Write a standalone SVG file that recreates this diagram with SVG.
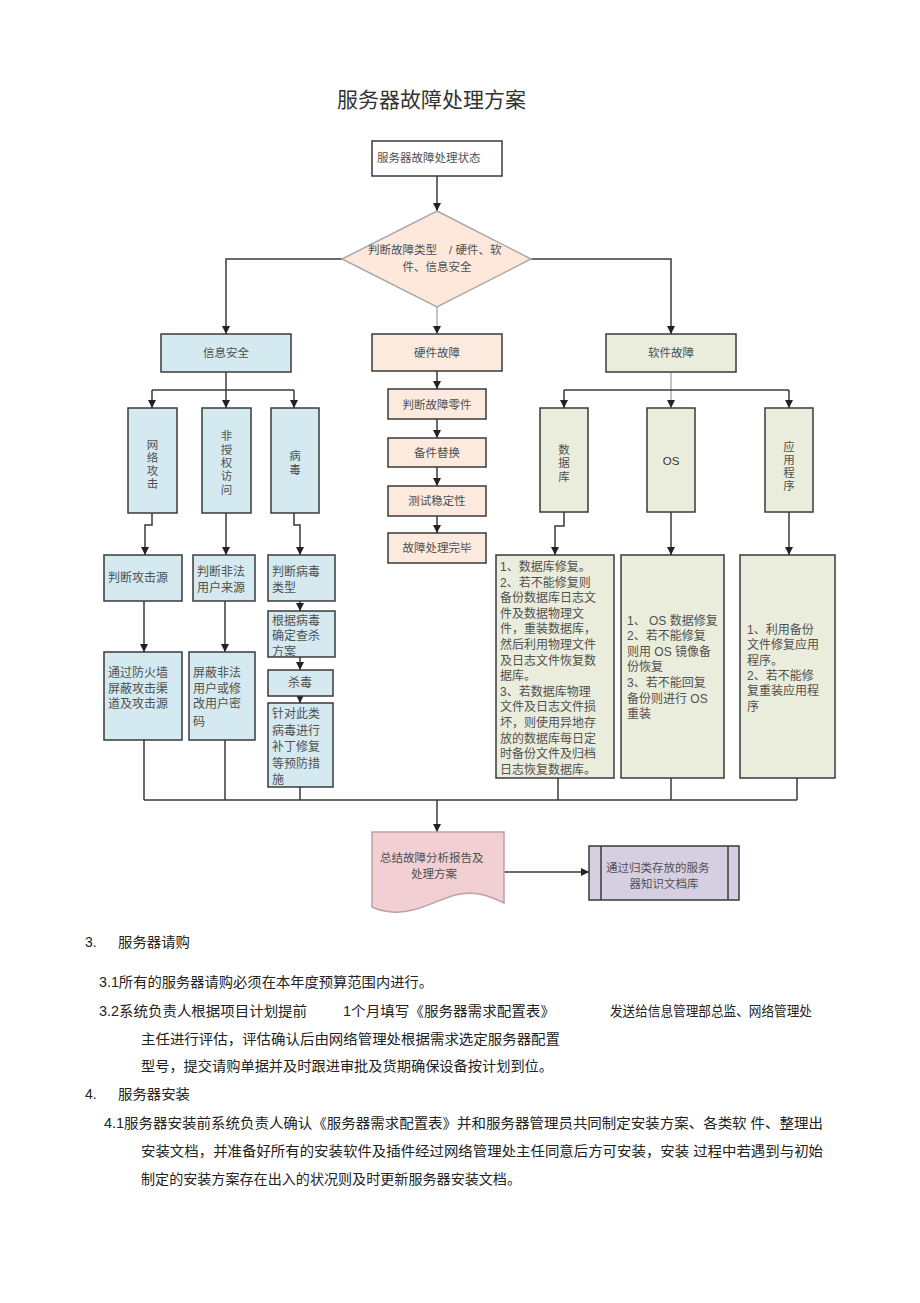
<svg xmlns="http://www.w3.org/2000/svg" width="920" height="1303" viewBox="0 0 920 1303">
<style>
.t{font-family:"Liberation Sans","Noto Sans CJK SC",sans-serif;fill:#505050;font-size:11.5px}
.m{text-anchor:middle}
.b{font-family:"Liberation Sans","Noto Sans CJK SC",sans-serif;fill:#222;font-size:14px}
.box{stroke:#3a3a3a;stroke-width:1.5}
.blue{fill:#d4eaf0}
.peach{fill:#fdeadf}
.green{fill:#ebeddc}
.c{fill:none;stroke:#3a3a3a;stroke-width:1.5}
.ca{fill:none;stroke:#3a3a3a;stroke-width:1.5;marker-end:url(#ah)}
.cl{fill:none;stroke:#b0b0b0;stroke-width:1.5;marker-end:url(#ah)}
</style>
<defs>
<marker id="ah" markerUnits="userSpaceOnUse" markerWidth="9" markerHeight="9" refX="8" refY="4" orient="auto">
<path d="M0,0 L8,4 L0,8 z" fill="#222"/>
</marker>
</defs>
<rect width="920" height="1303" fill="#fff"/>
<text x="337" y="107" style="font-family:'Liberation Sans','Noto Sans CJK SC',sans-serif;font-size:21px;fill:#333">服务器故障处理方案</text>

<g id="connectors">
<path class="ca" d="M437,176 V211"/>
<path class="ca" d="M342,259 H226 V334"/>
<path class="ca" d="M531,259 H671 V334"/>
<path class="cl" d="M437,307 V334"/>
<path class="c" d="M152,390 H294"/>
<path class="ca" d="M226,372 V408"/>
<path class="ca" d="M152,390 V408"/>
<path class="ca" d="M294,390 V408"/>
<path class="ca" d="M152,513 V525 H145 V555"/>
<path class="ca" d="M226,513 V555"/>
<path class="ca" d="M294,513 V525 H300 V555"/>
<path class="ca" d="M144,601 V652"/>
<path class="ca" d="M225,601 V652"/>
<path class="ca" d="M300,601 V611"/>
<path class="ca" d="M300,657 V670"/>
<path class="ca" d="M300,696 V703"/>
<path class="c" d="M144,740 V800 M225,740 V800 M300,787 V800 M558,778 V800 M671,778 V800 M797,778 V800 M144,800 H797"/>
<path class="ca" d="M437,800 V832"/>
<path class="ca" d="M504,872 H589"/>
<path class="ca" d="M437,371 V389"/>
<path class="ca" d="M437,419 V438"/>
<path class="ca" d="M437,467 V486"/>
<path class="ca" d="M437,516 V533"/>
<path class="cl" d="M671,372 V408"/>
<path class="c" d="M564,390 H789"/>
<path class="ca" d="M564,390 V408"/>
<path class="ca" d="M789,390 V408"/>
<path class="ca" d="M564,512 V526 H555 V555"/>
<path class="ca" d="M671,512 V555"/>
<path class="ca" d="M789,512 V555"/>
</g>

<g id="start">
<rect class="box" x="372" y="141" width="130" height="35" fill="#fff"/>
<text class="t" x="377" y="162">服务器故障处理状态</text>
</g>
<g id="decision">
<polygon points="437,211 531,259 437,307 342,259" fill="#fde8db" stroke="#a8a8a8" stroke-width="1.5"/>
<text class="t" x="368" y="254">判断故障类型</text>
<text class="t" x="449" y="254">/ 硬件、软</text>
<text class="t m" x="437" y="271">件、信息安全</text>
</g>

<g id="info-security">
<rect class="box blue" x="161" y="334" width="130" height="38"/>
<text class="t m" x="226" y="357">信息安全</text>
</g>
<g id="hardware">
<rect class="box peach" x="372" y="334" width="130" height="37"/>
<text class="t m" x="437" y="357">硬件故障</text>
</g>
<g id="software">
<rect class="box green" x="606" y="334" width="130" height="38"/>
<text class="t m" x="671" y="357">软件故障</text>
</g>

<g id="net-attack">
<rect class="box blue" x="128" y="408" width="49" height="105"/>
<text class="t m" x="152.5" y="449">网</text>
<text class="t m" x="152.5" y="462">络</text>
<text class="t m" x="152.5" y="475">攻</text>
<text class="t m" x="152.5" y="488">击</text>
</g>
<g id="unauth">
<rect class="box blue" x="202" y="408" width="49" height="105"/>
<text class="t m" x="226.5" y="440">非</text>
<text class="t m" x="226.5" y="454">授</text>
<text class="t m" x="226.5" y="467">权</text>
<text class="t m" x="226.5" y="480">访</text>
<text class="t m" x="226.5" y="494">问</text>
</g>
<g id="virus">
<rect class="box blue" x="271" y="408" width="48" height="105"/>
<text class="t m" x="295" y="460">病</text>
<text class="t m" x="295" y="474">毒</text>
</g>

<g id="judge-attack">
<rect class="box blue" x="104" y="555" width="78" height="46"/>
<text class="t" x="108" y="582" style="font-size:12px">判断攻击源</text>
</g>
<g id="judge-user">
<rect class="box blue" x="193" y="555" width="62" height="46"/>
<text class="t" x="197" y="576" style="font-size:12px">判断非法</text>
<text class="t" x="197" y="592" style="font-size:12px">用户来源</text>
</g>
<g id="judge-virus">
<rect class="box blue" x="268" y="555" width="67" height="46"/>
<text class="t" x="272" y="576" style="font-size:12px">判断病毒</text>
<text class="t" x="272" y="592" style="font-size:12px">类型</text>
</g>
<g id="virus-plan">
<rect class="box blue" x="268" y="611" width="67" height="46"/>
<text class="t" x="272" y="625" style="font-size:12px">根据病毒</text>
<text class="t" x="272" y="640" style="font-size:12px">确定查杀</text>
<text class="t" x="272" y="656" style="font-size:12px">方案</text>
</g>
<g id="kill">
<rect class="box blue" x="268" y="670" width="65" height="26"/>
<text class="t m" x="300" y="687" style="font-size:12px">杀毒</text>
</g>
<g id="patch">
<rect class="box blue" x="268" y="703" width="65" height="84"/>
<text class="t" x="272" y="718" style="font-size:12px">针对此类</text>
<text class="t" x="272" y="735" style="font-size:12px">病毒进行</text>
<text class="t" x="272" y="751" style="font-size:12px">补丁修复</text>
<text class="t" x="272" y="768" style="font-size:12px">等预防措</text>
<text class="t" x="272" y="784" style="font-size:12px">施</text>
</g>
<g id="firewall">
<rect class="box blue" x="104" y="652" width="78" height="88"/>
<text class="t" x="108" y="677" style="font-size:12px">通过防火墙</text>
<text class="t" x="108" y="693" style="font-size:12px">屏蔽攻击渠</text>
<text class="t" x="108" y="708" style="font-size:12px">道及攻击源</text>
</g>
<g id="block-user">
<rect class="box blue" x="189" y="652" width="66" height="88"/>
<text class="t" x="193" y="677" style="font-size:12px">屏蔽非法</text>
<text class="t" x="193" y="693" style="font-size:12px">用户或修</text>
<text class="t" x="193" y="708" style="font-size:12px">改用户密</text>
<text class="t" x="193" y="726" style="font-size:12px">码</text>
</g>

<g id="hw-judge">
<rect class="box peach" x="388" y="389" width="98" height="30"/>
<text class="t m" x="437" y="409">判断故障零件</text>
</g>
<g id="hw-replace">
<rect class="box peach" x="388" y="438" width="98" height="29"/>
<text class="t m" x="437" y="457">备件替换</text>
</g>
<g id="hw-test">
<rect class="box peach" x="388" y="486" width="98" height="30"/>
<text class="t m" x="437" y="505">测试稳定性</text>
</g>
<g id="hw-done">
<rect class="box peach" x="388" y="533" width="98" height="30"/>
<text class="t m" x="437" y="552">故障处理完毕</text>
</g>

<g id="db">
<rect class="box green" x="540" y="408" width="48" height="104"/>
<text class="t m" x="564" y="454">数</text>
<text class="t m" x="564" y="467">据</text>
<text class="t m" x="564" y="481">库</text>
</g>
<g id="os">
<rect class="box green" x="647" y="408" width="48" height="104"/>
<text class="t m" x="671" y="465" style="fill:#333">OS</text>
</g>
<g id="app">
<rect class="box green" x="765" y="408" width="48" height="104"/>
<text class="t m" x="789" y="451">应</text>
<text class="t m" x="789" y="464">用</text>
<text class="t m" x="789" y="477">程</text>
<text class="t m" x="789" y="490">序</text>
</g>

<g id="db-detail">
<rect class="box green" x="496" y="555" width="118" height="223"/>
<g class="t" style="font-size:12px">
<text x="500" y="571">1、数据库修复。</text>
<text x="500" y="587">2、若不能修复则</text>
<text x="500" y="602">备份数据库日志文</text>
<text x="500" y="618">件及数据物理文</text>
<text x="500" y="633">件，重装数据库，</text>
<text x="500" y="649">然后利用物理文件</text>
<text x="500" y="665">及日志文件恢复数</text>
<text x="500" y="680">据库。</text>
<text x="500" y="696">3、若数据库物理</text>
<text x="500" y="711">文件及日志文件损</text>
<text x="500" y="727">坏，则使用异地存</text>
<text x="500" y="743">放的数据库每日定</text>
<text x="500" y="758">时备份文件及归档</text>
<text x="500" y="774">日志恢复数据库。</text>
</g>
</g>
<g id="os-detail">
<rect class="box green" x="621" y="555" width="103" height="223"/>
<g class="t" style="font-size:12px">
<text x="627" y="625">1、 OS 数据修复</text>
<text x="627" y="640">2、若不能修复</text>
<text x="627" y="656">则用 OS 镜像备</text>
<text x="627" y="671">份恢复</text>
<text x="627" y="687">3、若不能回复</text>
<text x="627" y="703">备份则进行  OS</text>
<text x="627" y="718">重装</text>
</g>
</g>
<g id="app-detail">
<rect class="box green" x="740" y="555" width="95" height="223"/>
<g class="t" style="font-size:12px">
<text x="747" y="634">1、利用备份</text>
<text x="747" y="649">文件修复应用</text>
<text x="747" y="665">程序。</text>
<text x="747" y="680">2、若不能修</text>
<text x="747" y="695">复重装应用程</text>
<text x="747" y="711">序</text>
</g>
</g>

<g id="report">
<path d="M372,832 H504 V903 C490,896 474,890 455,895 C432,902 414,914 392,912 C382,911 376,909 372,907 Z" fill="#f1cfd3" stroke="#c0a0a6" stroke-width="1.5"/>
<text class="t" x="380" y="862">总结故障分析报告及</text>
<text class="t m" x="434" y="878">处理方案</text>
</g>
<g id="kb">
<rect class="box" x="589" y="846" width="150" height="54" fill="#d6cfe2"/>
<path d="M601,846 V900 M728,846 V900" stroke="#3a3a3a" stroke-width="1.5"/>
<text class="t" x="606" y="872">通过归类存放的服务</text>
<text class="t m" x="664" y="888">器知识文档库</text>
</g>

<g id="body-text">
<text class="b" x="85" y="947">3.</text>
<text class="b" x="118" y="947" textLength="72" lengthAdjust="spacingAndGlyphs">服务器请购</text>
<text class="b" x="99" y="987" textLength="334" lengthAdjust="spacingAndGlyphs">3.1所有的服务器请购必须在本年度预算范围内进行。</text>
<text class="b" x="99" y="1016" textLength="208" lengthAdjust="spacingAndGlyphs">3.2系统负责人根据项目计划提前</text>
<text class="b" x="343" y="1016" textLength="212" lengthAdjust="spacingAndGlyphs">1个月填写《服务器需求配置表》</text>
<text class="b" x="610" y="1016" textLength="202" lengthAdjust="spacingAndGlyphs">发送给信息管理部总监、网络管理处</text>
<text class="b" x="141" y="1044" textLength="419" lengthAdjust="spacingAndGlyphs">主任进行评估，评估确认后由网络管理处根据需求选定服务器配置</text>
<text class="b" x="141" y="1071" textLength="412" lengthAdjust="spacingAndGlyphs">型号，提交请购单据并及时跟进审批及货期确保设备按计划到位。</text>
<text class="b" x="85" y="1099">4.</text>
<text class="b" x="118" y="1099" textLength="72" lengthAdjust="spacingAndGlyphs">服务器安装</text>
<text class="b" x="104" y="1128" textLength="719" lengthAdjust="spacingAndGlyphs">4.1服务器安装前系统负责人确认《服务器需求配置表》并和服务器管理员共同制定安装方案、各类软 件、整理出</text>
<text class="b" x="141" y="1156" textLength="682" lengthAdjust="spacingAndGlyphs">安装文档，并准备好所有的安装软件及插件经过网络管理处主任同意后方可安装，安装 过程中若遇到与初始</text>
<text class="b" x="141" y="1184" textLength="380" lengthAdjust="spacingAndGlyphs">制定的安装方案存在出入的状况则及时更新服务器安装文档。</text>
</g>
</svg>
